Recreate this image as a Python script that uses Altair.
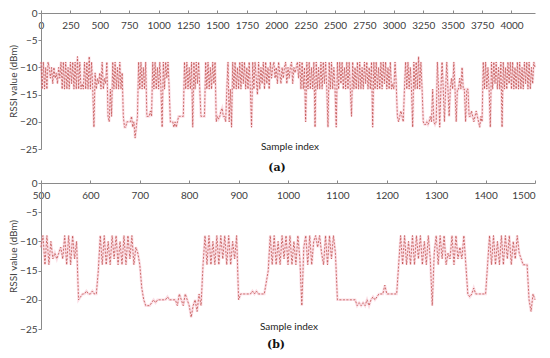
import altair as alt
import pandas as pd

# ---- panel (a): samples 0..4200, one reading every 10 samples ----
a_start = 0
a_step = 10
a_vals = [
    -9, -14, -9, -14, -10, -14, -9, -10, -12, -10,
    -13, -10, -12, -11, -13, -10, -12, -9, -14, -9,
    -14, -9, -14, -10, -14, -9, -13, -9, -14, -9,
    -14, -8, -14, -9, -14, -13, -14, -9, -14, -9,
    -14, -8, -14, -9, -14, -21, -11, -14, -12, -13,
    -11, -14, -9, -14, -12, -13, -9, -19, -20, -14,
    -19, -9, -14, -9, -14, -10, -14, -9, -14, -11,
    -19, -21, -21, -20, -20, -20, -20, -19, -21, -20,
    -23, -21, -19, -9, -14, -9, -14, -10, -14, -9,
    -19, -19, -19, -18, -19, -9, -14, -9, -14, -10,
    -14, -9, -14, -21, -9, -14, -9, -12, -9, -14,
    -20, -20, -20, -21, -20, -21, -20, -19, -19, -19,
    -19, -19, -9, -14, -9, -14, -10, -14, -9, -21,
    -9, -14, -9, -13, -9, -14, -19, -19, -19, -19,
    -9, -14, -9, -14, -10, -14, -9, -13, -9, -20,
    -19, -19.5, -19, -18, -17.5, -19, -19, -20, -14, -9,
    -20, -14, -21, -9, -14, -9, -14, -10, -14, -9,
    -14, -9, -13, -9, -14, -10, -14, -9, -14, -21,
    -9, -14, -9, -12, -15, -9, -14, -10, -13, -9,
    -14, -9, -13, -10, -14, -9, -12, -10, -9, -12,
    -10, -13, -9, -11, -13, -10, -12, -10, -9, -13,
    -10, -12, -10, -9, -13, -10, -11, -10, -9, -12,
    -9, -14, -9, -14, -10, -20, -9, -14, -9, -14,
    -10, -14, -9, -21, -9, -14, -10, -14, -9, -14,
    -9, -13, -9, -14, -21, -9, -14, -9, -14, -10,
    -14, -21, -9, -14, -9, -13, -9, -14, -10, -14,
    -9, -14, -9, -14, -19, -9, -14, -10, -14, -9,
    -14, -9, -14, -10, -14, -9, -13, -9, -14, -10,
    -14, -9, -21, -9, -14, -9, -14, -10, -14, -9,
    -14, -9, -13, -9, -14, -10, -14, -9, -14, -13,
    -14, -9, -13, -19, -20, -19, -18, -19, -20, -14,
    -9, -14, -9, -14, -10, -14, -21, -9, -14, -9,
    -14, -8, -14, -9, -14, -20, -20.5, -20.5, -20, -20.5,
    -20, -19, -20, -14, -20, -20.5, -20, -9, -14, -21,
    -14, -9, -14, -20, -14, -9, -14, -19, -14, -12,
    -14, -9, -14, -20, -14, -14, -12, -14, -10, -14,
    -14, -20, -14, -14, -19, -19, -18, -19, -20, -19,
    -18, -19, -20, -21, -19, -20, -9, -14, -9, -14,
    -10, -14, -21, -9, -14, -9, -13, -9, -14, -10,
    -14, -9, -21, -9, -14, -10, -14, -9, -13, -9,
    -14, -9, -14, -10, -14, -9, -14, -9, -14, -10,
    -14, -9, -13, -9, -14, -9, -14, -10, -13, -9,
    -10,
]

# ---- panel (b): samples 500..1500, one reading every 4 samples ----
b_start = 500
b_step = 4
b_vals = [
    -11, -9, -14, -9, -14, -10, -13, -12, -13, -12, -11, -13, -9, -14, -9, -14, -9, -13, -10, -20, -19.5, -19, -19, -18.5, -19,
    -19, -18.5, -19, -19, -15, -9, -14, -9, -14, -10, -14, -9, -13, -9, -14, -10, -14, -9, -14, -9, -13, -9, -14, -11, -12,
    -14, -18, -20, -21, -21, -21, -20.5, -20, -20.5, -20, -20, -20, -20, -20, -19.5, -20, -20, -20, -20, -21, -19, -20, -21, -19, -20,
    -21, -23, -21, -20, -22, -19, -21, -14, -9, -14, -9, -14, -10, -14, -9, -14, -9, -13, -9, -14, -9, -14, -10, -13, -9,
    -20, -19, -19, -19, -19, -19, -19, -18.5, -19, -18.5, -19, -19, -19, -19, -17, -15, -9, -14, -9, -14, -10, -14, -9, -13, -9,
    -14, -9, -14, -10, -14, -9, -13, -21, -11, -9, -14, -9, -14, -10, -9, -11, -9, -12, -14, -9, -14, -9, -13, -9, -12,
    -20, -20, -20, -20, -20, -20, -20, -20, -20, -20, -21, -20.5, -21, -20.5, -21, -20, -21, -20, -19.5, -20, -19.5, -19, -19, -19, -17.5,
    -19, -19, -19, -19, -19, -19, -14, -9, -14, -9, -14, -10, -14, -9, -14, -9, -13, -9, -14, -10, -14, -9, -13, -21, -12,
    -9, -14, -9, -13, -9, -14, -12, -13, -9, -14, -9, -13, -11, -13, -9, -14, -19, -19.5, -19, -18, -19, -19, -19, -19, -19,
    -19, -14, -9, -14, -9, -14, -10, -14, -9, -14, -9, -13, -9, -14, -10, -13, -9, -12, -13, -14, -14, -14, -20, -22, -19, -20,
]

a_ticks = list(range(0, 4001, 250))
b_ticks = list(range(500, 1501, 100))
y_ticks = [0, -5, -10, -15, -20, -25]
y_title = "RSSI value (dBm)"
x_title = ["Sample index"]
tags = ["(a)", "(b)"]

FONT = "Lato"
LINE = "#c0504d"
HAZE = "#f4b0c0"
AXIS = "#8a8a8a"
LABEL = "#404040"


def panel(start, step, vals, domain, ticks, W, H, tag, title_xy, tag_xy):
    xs = [start + step * i for i in range(len(vals))]
    df = pd.DataFrame({"x": xs, "y": vals})
    last = ticks[-1]
    label_align = "center"
    if last == domain[1]:
        label_align = {"condition": {"test": f"datum.value === {last}", "value": "right"}, "value": "center"}
    xenc = alt.X(
        "x:Q",
        scale=alt.Scale(domain=domain, nice=False, zero=False),
        axis=alt.Axis(
            orient="top", values=ticks, format="d", title=None, grid=False,
            labelFlush=False, labelPadding=-15, labelBaseline="middle",
            labelAlign=label_align,
            tickSize=3, labelFont=FONT, labelFontSize=10, labelColor=LABEL,
            domainColor=AXIS, tickColor=AXIS, labelOverlap=False,
        ),
    )
    yenc = alt.Y(
        "y:Q",
        scale=alt.Scale(domain=[-25, 0], nice=False, zero=False),
        axis=alt.Axis(
            values=y_ticks, format="d", title=y_title, grid=False, tickSize=3,
            labelPadding=1, titlePadding=1, labelFont=FONT, labelFontSize=10,
            labelColor=LABEL, titleFont=FONT, titleFontSize=10,
            titleFontWeight="normal", titleColor=LABEL, labelOverlap=False,
            domainColor=AXIS, tickColor=AXIS,
        ),
    )
    base = alt.Chart(df).encode(x=xenc, y=yenc)
    haze = base.mark_line(color=HAZE, strokeWidth=2.6, opacity=0.4)
    line = base.mark_line(color=LINE, strokeWidth=0.8, strokeDash=[2, 1.5])
    title = alt.Chart(pd.DataFrame({"t": x_title})).mark_text(
        font=FONT, fontSize=10, color="#222222", align="center", baseline="middle"
    ).encode(text="t:N", x=alt.value(title_xy[0]), y=alt.value(title_xy[1]))
    tagc = alt.Chart(pd.DataFrame({"t": [tag]})).mark_text(
        font="DejaVu Serif", fontSize=11, fontWeight="bold", color="#111111",
        align="center", baseline="middle"
    ).encode(text="t:N", x=alt.value(tag_xy[0]), y=alt.value(tag_xy[1]))
    return alt.layer(haze, line, title, tagc).properties(width=W, height=H)


top = panel(a_start, a_step, a_vals, [0, 4200], a_ticks, 494, 136, tags[0], (249, 134), (236, 155))
bot = panel(b_start, b_step, b_vals, [500, 1500], b_ticks, 494, 146, tags[1], (248, 144), (235, 162))

chart = alt.vconcat(top, bot, spacing=5).properties(
    padding={"left": 0, "top": 0, "right": 0, "bottom": 0},
    background="white",
).configure_view(stroke=None)

chart.save("out.html", embed_options={"renderer": "svg", "actions": False})
